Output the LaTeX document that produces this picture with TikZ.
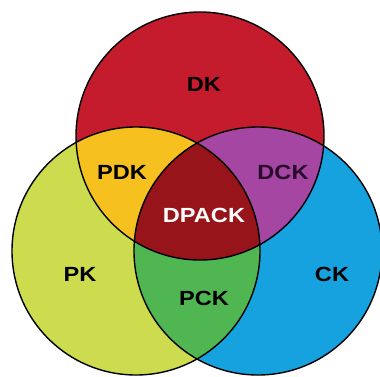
\documentclass[tikz,border=0pt]{standalone}
\usepackage{fontspec}
\usepackage{graphicx}
\setmainfont{Liberation Sans}
\definecolor{dkred}{RGB}{196,28,44}
\definecolor{pkyel}{RGB}{204,220,78}
\definecolor{ckblue}{RGB}{22,162,222}
\definecolor{pdkorg}{RGB}{246,192,30}
\definecolor{dckpur}{RGB}{164,70,162}
\definecolor{pckgrn}{RGB}{80,182,82}
\definecolor{dpackred}{RGB}{150,20,26}
\definecolor{dcktext}{RGB}{40,10,44}
\begin{document}
\begin{tikzpicture}[x=1pt,y=-1pt,
  lbl/.style={font=\fontsize{20.5}{22}\selectfont\bfseries, inner sep=0pt},
  ring/.style={draw=black, line width=1.4pt}]
\useasboundingbox (0,0) rectangle (380,376);
\fill[white] (0,0) rectangle (380,376);
\coordinate (T) at (200,136);
\coordinate (L) at (136,251);
\coordinate (R) at (258,251);
\def\rr{124}
% base circles
\fill[dkred] (T) circle (\rr);
\fill[pkyel] (L) circle (\rr);
\fill[ckblue] (R) circle (\rr);
% pairwise intersections
\begin{scope}
  \clip (T) circle (\rr);
  \fill[pdkorg] (L) circle (\rr);
  \fill[dckpur] (R) circle (\rr);
\end{scope}
\begin{scope}
  \clip (L) circle (\rr);
  \fill[pckgrn] (R) circle (\rr);
\end{scope}
% triple intersection
\begin{scope}
  \clip (T) circle (\rr);
  \clip (L) circle (\rr);
  \fill[dpackred] (R) circle (\rr);
\end{scope}
% outlines
\draw[ring] (T) circle (\rr);
\draw[ring] (L) circle (\rr);
\draw[ring] (R) circle (\rr);
% labels
\node[lbl] (dk) at (204,84) {\scalebox{1.15}[1]{DK}};
\node[lbl] (pdk) at (122,172) {\scalebox{1.15}[1]{PDK}};
\node[lbl, text=dcktext] (dck) at (283,172) {\scalebox{1.15}[1]{DCK}};
\node[lbl, text=white] (dpack) at (204,215) {\scalebox{1.15}[1]{DPACK}};
\node[lbl] (pk) at (80,274) {\scalebox{1.15}[1]{PK}};
\node[lbl] (pck) at (204,298) {\scalebox{1.15}[1]{PCK}};
\node[lbl] (ck) at (332,274) {\scalebox{1.15}[1]{CK}};
\end{tikzpicture}
\end{document}
